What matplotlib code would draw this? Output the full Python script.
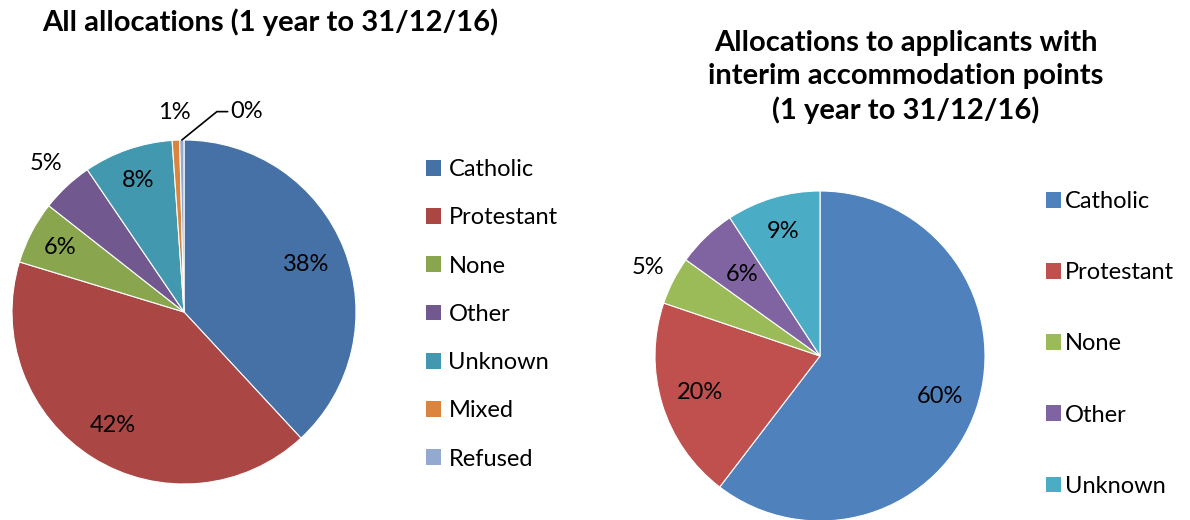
import numpy as np
import matplotlib
matplotlib.use("Agg")
import matplotlib.pyplot as plt
from matplotlib.patches import Patch

plt.rcParams['font.family'] = ['Lato', 'DejaVu Sans']

# left pie: all allocations
all_labels = ["Catholic", "Protestant", "None", "Other", "Unknown", "Mixed", "Refused"]
all_values = [38.1, 41.6, 5.9, 4.9, 8.4, 0.7, 0.4]
all_colors = ["#4571A6", "#AA4643", "#89A54E", "#71588F", "#4198AF", "#DB843D", "#93A9CF"]

# right pie: applicants with interim accommodation points
iap_labels = ["Catholic", "Protestant", "None", "Other", "Unknown"]
iap_values = [60.4, 19.8, 4.7, 5.9, 9.2]
iap_colors = ["#4F81BD", "#C0504D", "#9BBB59", "#8064A2", "#4BACC6"]

FS = 17
TFS = 21
W, H = 1190, 520

fig = plt.figure(figsize=(W / 100, H / 100), dpi=100)


def pie_axes(cx, cy, r):
    # cx, cy, r in pixels (y from top)
    return fig.add_axes([(cx - r) / W, (H - cy - r) / H, 2 * r / W, 2 * r / H])


def mid_angles(vals):
    tot = float(sum(vals))
    cum = np.cumsum([0] + list(vals))
    # start at 90 deg, go clockwise
    return [np.deg2rad(90 - 360 * (cum[i] + vals[i] / 2) / tot) for i in range(len(vals))]


def draw_pie(ax, vals, colors, dists):
    ax.pie(vals, colors=colors, startangle=90, counterclock=False,
           wedgeprops=dict(edgecolor="white", linewidth=0.8))
    ax.set_xlim(-1, 1)
    ax.set_ylim(-1, 1)
    ax.set_aspect("equal")
    ax.axis("off")
    angs = mid_angles(vals)
    for v, a, d in zip(vals, angs, dists):
        if d is None:
            continue
        ax.text(d * np.cos(a), d * np.sin(a), "%.0f%%" % v, ha="center", va="center",
                fontsize=FS, clip_on=False)
    return angs


ax1 = pie_axes(184, 312, 172)
angs1 = draw_pie(ax1, all_values, all_colors, [0.76, 0.78, 0.81, 1.18, 0.81, 1.16, None])
a = angs1[-1]
ax1.annotate("%.0f%%" % all_values[-1], xy=(np.cos(a), np.sin(a)), xytext=(0.27, 1.165),
             ha="left", va="center", fontsize=FS, annotation_clip=False,
             arrowprops=dict(arrowstyle="-", color="black", lw=1.2, shrinkA=0, shrinkB=0,
                             relpos=(0, 0.5), connectionstyle="angle,angleA=0,angleB=39,rad=0"))

ax2 = pie_axes(820, 356, 165)
draw_pie(ax2, iap_values, iap_colors, [0.77, 0.76, 1.17, 0.68, 0.79])

fig.text(270 / W, 1 - 22 / H, "All allocations (1 year to 31/12/16)", ha="center", va="center",
         fontsize=TFS, fontweight="bold")
fig.text(906 / W, 1 - 77 / H, "Allocations to applicants with\ninterim accommodation points\n(1 year to 31/12/16)",
         ha="center", va="center", fontsize=TFS, fontweight="bold", linespacing=1.35)

h1 = [Patch(facecolor=c) for c in all_colors]
fig.legend(h1, all_labels, loc="upper left", bbox_to_anchor=(426 / W, 1 - 159 / H), frameon=False,
           fontsize=FS, handlelength=0.65, handleheight=0.65, handletextpad=0.3,
           labelspacing=1.155, borderaxespad=0, borderpad=0)

h2 = [Patch(facecolor=c) for c in iap_colors]
fig.legend(h2, iap_labels, loc="upper left", bbox_to_anchor=(1046 / W, 1 - 191 / H), frameon=False,
           fontsize=FS, handlelength=0.65, handleheight=0.65, handletextpad=0.15,
           labelspacing=2.125, borderaxespad=0, borderpad=0)

fig.savefig("out.png", dpi=100)
